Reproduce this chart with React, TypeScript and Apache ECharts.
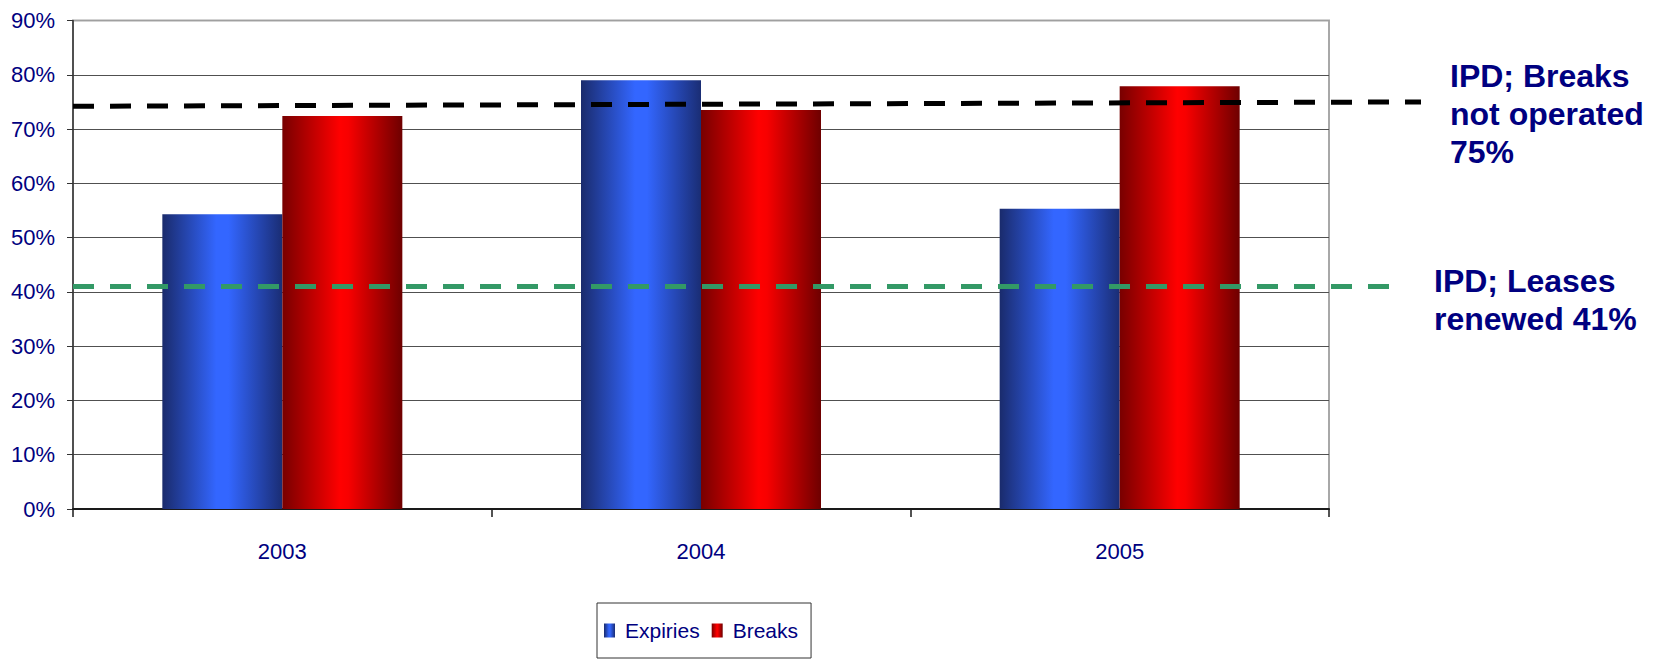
import React, { useEffect, useRef } from "react";
import * as echarts from "echarts";

// Lease outcome shares by year
const years = ["2003", "2004", "2005"];
const expiries = [54.3, 79.0, 55.3];
const breaks = [72.4, 73.5, 77.9];
const yTicks = [0, 10, 20, 30, 40, 50, 60, 70, 80, 90];

// IPD benchmarks (percent)
const breaksBenchmarkStart = 74.2;
const breaksBenchmark = 75;
const leasesBenchmark = 41;
const breaksBenchmarkText = ["IPD; Breaks", "not operated", "75%"];
const leasesBenchmarkText = ["IPD; Leases", "renewed 41%"];

const NAVY = "#000080";
const SANS = "'Liberation Sans', Arial, sans-serif";

const blueFill = new echarts.graphic.LinearGradient(0, 0, 1, 0, [
  { offset: 0, color: "#1a2b6c" },
  { offset: 0.45, color: "#3366ff" },
  { offset: 0.55, color: "#3366ff" },
  { offset: 1, color: "#1a2d74" },
]);
const redFill = new echarts.graphic.LinearGradient(0, 0, 1, 0, [
  { offset: 0, color: "#780000" },
  { offset: 0.48, color: "#ff0000" },
  { offset: 0.55, color: "#f80000" },
  { offset: 1, color: "#6e0000" },
]);

export default function App() {
  const ref = useRef<HTMLDivElement>(null);

  useEffect(() => {
    document.body.style.margin = "0";
    const chart = echarts.init(ref.current!, null, { renderer: "svg" });
    const gridColors = yTicks.map((t, i) => (i === yTicks.length - 1 ? "#a0a0a0" : "#505050"));

    chart.setOption({
      animation: false,
      backgroundColor: "#ffffff",
      grid: {
        left: 73,
        right: 324,
        top: 20.5,
        bottom: 154,
        show: true,
        borderColor: "#a8a8a8",
        borderWidth: 2,
      },
      legend: {
        left: 597,
        top: 603,
        orient: "horizontal",
        padding: [17, 13, 17, 7],
        itemGap: 12,
        itemWidth: 11,
        itemHeight: 14,
        icon: "rect",
        borderColor: "#333333",
        borderWidth: 1,
        data: ["Expiries", "Breaks"],
        textStyle: {
          fontFamily: SANS,
          fontSize: 21,
          color: NAVY,
          padding: [0, 0, 0, 5],
        },
      },
      xAxis: {
        type: "category",
        data: years,
        axisLine: { lineStyle: { color: "#1a1a1a", width: 2 } },
        axisTick: { show: true, length: 8, lineStyle: { color: "#1a1a1a", width: 1.5 } },
        axisLabel: {
          fontFamily: SANS,
          fontSize: 22,
          color: NAVY,
          margin: 31,
        },
        splitLine: { show: false },
      },
      yAxis: {
        type: "value",
        min: 0,
        max: 90,
        interval: 10,
        axisLine: { show: true, lineStyle: { color: "#333333", width: 1.5 } },
        axisTick: { show: true, length: 6, lineStyle: { color: "#333333" } },
        axisLabel: {
          fontFamily: SANS,
          fontSize: 22,
          color: NAVY,
          margin: 18,
          formatter: "{value}%",
        },
        splitLine: { show: true, lineStyle: { color: gridColors, width: 1 } },
      },
      series: [
        {
          name: "Expiries",
          type: "bar",
          data: expiries,
          barWidth: 120,
          barGap: "0%",
          itemStyle: { color: blueFill },
        },
        {
          name: "Breaks",
          type: "bar",
          data: breaks,
          barWidth: 120,
          barGap: "0%",
          itemStyle: { color: redFill },
        },
      ],
    });

    // Benchmark lines and their captions, placed through the value axis
    const yOf = (v: number) => chart.convertToPixel({ yAxisIndex: 0 }, v) as number;
    const xLeft = 73;
    chart.setOption({
      graphic: [
        {
          type: "line",
          z: 10,
          shape: { x1: xLeft, y1: yOf(breaksBenchmarkStart), x2: 1421, y2: yOf(breaksBenchmark) },
          style: { stroke: "#000000", lineWidth: 5, lineDash: [21, 16] },
        },
        {
          type: "line",
          z: 10,
          shape: { x1: xLeft, y1: yOf(leasesBenchmark), x2: 1401, y2: yOf(leasesBenchmark) },
          style: { stroke: "#339966", lineWidth: 5, lineDash: [21, 16] },
        },
        {
          type: "text",
          x: 1450,
          y: 57,
          style: {
            text: breaksBenchmarkText.join("\n"),
            fontFamily: SANS,
            fontWeight: "bold",
            fontSize: 32,
            lineHeight: 38,
            fill: NAVY,
            textVerticalAlign: "top",
          },
        },
        {
          type: "text",
          x: 1434,
          y: 262,
          style: {
            text: leasesBenchmarkText.join("\n"),
            fontFamily: SANS,
            fontWeight: "bold",
            fontSize: 32,
            lineHeight: 38,
            fill: NAVY,
            textVerticalAlign: "top",
          },
        },
      ],
    });

    return () => chart.dispose();
  }, []);

  return <div ref={ref} style={{ width: 1653, height: 663 }} />;
}
